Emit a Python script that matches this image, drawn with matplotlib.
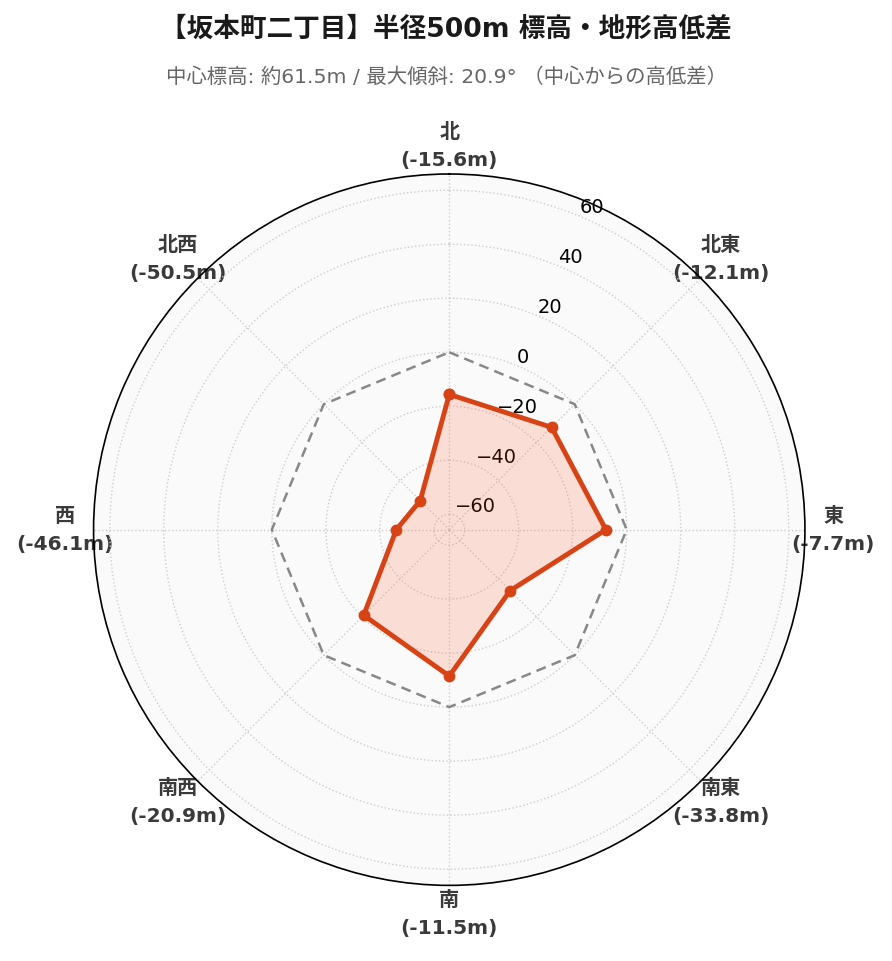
import numpy as np
import matplotlib
matplotlib.use('Agg')
import matplotlib.pyplot as plt

# 8方位の高低差 (中心からの差, m)
directions = ['北', '北東', '東', '南東', '南', '南西', '西', '北西']
diffs = [-15.6, -12.1, -7.7, -33.8, -11.5, -20.9, -46.1, -50.5]
r_ticks = [-60, -40, -20, 0, 20, 40, 60]

title = '【坂本町二丁目】半径500m 標高・地形高低差'
subtitle = '中心標高: 約61.5m / 最大傾斜: 20.9° （中心からの高低差）'

fonts = ['DejaVu Sans', 'Noto Sans CJK JP']
line_color = '#d84315'

angles = np.linspace(0, 2 * np.pi, len(directions), endpoint=False)
ang_closed = np.append(angles, angles[0])
val_closed = np.append(diffs, diffs[0])

fig = plt.figure(figsize=(8.92, 9.62), dpi=100)
ax = fig.add_axes([0.1049, 0.0786, 0.7975, 0.7395], projection='polar')
ax.set_facecolor('#fafafa')
ax.set_theta_zero_location('N')
ax.set_theta_direction(-1)
ax.set_ylim(-65.7, 66.0)

# 基準線 (高低差0)
ax.plot(ang_closed, np.zeros(len(ang_closed)), color='#888888', lw=1.8, ls=(0, (4, 2.5)), zorder=2)

ax.fill(ang_closed, val_closed, color='#ff5722', alpha=0.17, lw=0, zorder=3)
ax.plot(ang_closed, val_closed, color=line_color, lw=3.5, marker='o', ms=7.5, zorder=4)

ax.set_xticks(angles)
ax.set_xticklabels(['{}\n({:.1f}m)'.format(d, v) for d, v in zip(directions, diffs)],
                   fontsize=14.5, fontweight='bold', color='#3a3a3a', family=fonts,
                   linespacing=1.6)
ax.tick_params(axis='x', pad=10)

ax.set_yticks(r_ticks)
ax.set_rlabel_position(22.5)
ax.tick_params(axis='y', labelsize=14)

ax.grid(True, color='#cccccc', ls=':', lw=1.0)
ax.spines['polar'].set_color('black')
ax.spines['polar'].set_linewidth(1.2)

fig.text(0.5, 0.9695, title, ha='center', va='center', fontsize=19.2, fontweight='bold',
         color='#1a1a1a', family=fonts)
fig.text(0.5, 0.920, subtitle, ha='center', va='center', fontsize=14.7, color='#666666', family=fonts)

fig.savefig('out.png', dpi=100, facecolor='white')
